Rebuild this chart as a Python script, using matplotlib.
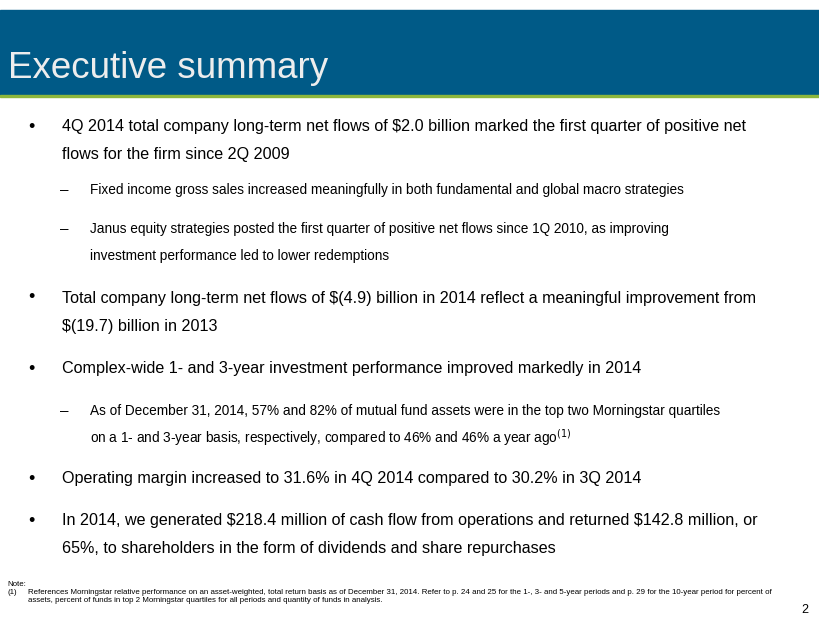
import matplotlib.pyplot as plt
from matplotlib.patches import Rectangle

plt.rcParams['font.family'] = ['Liberation Sans Narrow', 'Liberation Sans', 'DejaVu Sans']

TITLE = 'Executive summary'
# (level, y pixel, text lines)
items = [
    (0, 127, ['4Q 2014 total company long-term net flows of \\$2.0 billion marked the first quarter of positive net',
              'flows for the firm since 2Q 2009']),
    (1, 190, ['Fixed income gross sales increased meaningfully in both fundamental and global macro strategies']),
    (1, 229, ['Janus equity strategies posted the first quarter of positive net flows since 1Q 2010, as improving',
              'investment performance led to lower redemptions']),
    (0, 298, ['Total company long-term net flows of \\$(4.9) billion in 2014 reflect a meaningful improvement from',
              '\\$(19.7) billion in 2013']),
    (0, 369, ['Complex-wide 1- and 3-year investment performance improved markedly in 2014']),
    (1, 411, ['As of December 31, 2014, 57% and 82% of mutual fund assets were in the top two Morningstar quartiles',
              'on a 1- and 3-year basis, respectively, compared to 46% and 46% a year ago$^{(1)}$']),
    (0, 479, ['Operating margin increased to 31.6% in 4Q 2014 compared to 30.2% in 3Q 2014']),
    (0, 521, ['In 2014, we generated \\$218.4 million of cash flow from operations and returned \\$142.8 million, or',
              '65%, to shareholders in the form of dividends and share repurchases']),
]
note_lines = ['References Morningstar relative performance on an asset-weighted, total return basis as of December 31, 2014. Refer to p. 24 and 25 for the 1-, 3- and 5-year periods and p. 29 for the 10-year period for percent of',
              'assets, percent of funds in top 2 Morningstar quartiles for all periods and quantity of funds in analysis.']

fig = plt.figure(figsize=(8.2, 6.35), dpi=100)
H = 635.0


def fy(y):
    return 1 - y / H


fig.patches.append(Rectangle((0, fy(95)), 1, 85 / H, transform=fig.transFigure, color='#005A87'))
fig.patches.append(Rectangle((0, fy(97)), 1, 2 / H, transform=fig.transFigure, color='#8DB63C'))
fig.text(8 / 820, fy(68), TITLE, color='#EDEDED', fontsize=26.5, va='center')

for level, y, lines in items:
    if level == 0:
        fig.text(28 / 820, fy(y), '•', fontsize=13, va='center')
        x, size, gap = 62, 11.6, 28
    else:
        fig.text(60 / 820, fy(y), '–', fontsize=11, va='center')
        x, size, gap = 90, 9.8, 27
    for k, line in enumerate(lines):
        fig.text(x / 820, fy(y + k * gap), line, fontsize=size, va='center')

fig.text(7 / 820, fy(585), 'Note:', fontsize=5.7, va='center')
fig.text(7 / 820, fy(593), '(1)', fontsize=5.7, va='center')
for k, line in enumerate(note_lines):
    fig.text(28 / 820, fy(593 + k * 8), line, fontsize=5.7, va='center')
fig.text(808 / 820, fy(610), '2', fontsize=9, va='center', ha='right')

fig.savefig('out.png', dpi=100)
